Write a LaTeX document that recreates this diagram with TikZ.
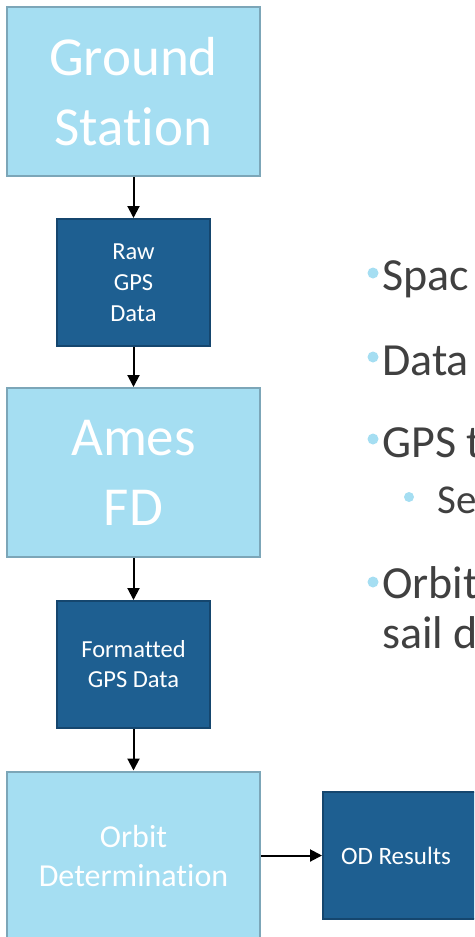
\documentclass[tikz,border=0pt]{standalone}
\usepackage{fontspec}
\setmainfont{Carlito}[Ligatures=NoCommon]
\usetikzlibrary{arrows.meta}
\definecolor{lightfill}{RGB}{165,222,242}
\definecolor{lightedge}{RGB}{124,166,184}
\definecolor{darkfill}{RGB}{30,95,145}
\definecolor{darkedge}{RGB}{21,70,110}
\definecolor{bodytext}{RGB}{64,64,64}
\definecolor{bulletblue}{RGB}{165,222,242}

\begin{document}
\begin{tikzpicture}[x=1pt,y=-1pt,
  lightbox/.style={draw=lightedge, fill=lightfill, line width=2pt,
    minimum width=253pt, minimum height=169pt, inner sep=0pt,
    text=white, align=center},
  darkbox/.style={draw=darkedge, fill=darkfill, line width=2pt,
    minimum width=153pt, minimum height=127pt, inner sep=0pt,
    text=white, align=center},
  flow/.style={line width=2pt, -{Triangle[length=12pt,width=12pt]}},
  bodyline/.style={anchor=base west, inner sep=0pt, text=bodytext,
    font=\fontsize{46}{54}\selectfont},
  subline/.style={anchor=base west, inner sep=0pt, text=bodytext,
    font=\fontsize{41}{48}\selectfont},
  dot/.style={fill=bulletblue, draw=none}
]
\useasboundingbox (0,0) rectangle (474,937);
\clip (0,0) rectangle (474,937);

% flow chain on the left
\node[lightbox, font=\fontsize{55}{70}\selectfont] (gs) at (133.5,91.5) {Ground\\Station};
\node[darkbox, font=\fontsize{24.5}{31}\selectfont] (raw) at (133.5,282.5) {Raw\\GPS\\Data};
\node[lightbox, font=\fontsize{55}{70}\selectfont] (ames) at (133.5,472.5) {Ames\\FD};
\node[darkbox, font=\fontsize{24.5}{30}\selectfont] (fmt) at (133.5,664.5) {Formatted\\GPS Data};
\node[lightbox, font=\fontsize{32}{39}\selectfont] (od) at (133.5,856) {Orbit\\Determination};
\node[darkbox, font=\fontsize{25}{30}\selectfont] (res) at (399.5,855.5) {\hspace*{-7pt}OD Results};

\draw[flow] (gs) -- (raw);
\draw[flow] (raw) -- (ames);
\draw[flow] (ames) -- (fmt);
\draw[flow] (fmt) -- (od);
\draw[flow] (od.east |- res.west) -- (res.west);

% bullet list on the right (runs on past the right edge)
\fill[dot] (373,273) circle (5.5pt);
\node[bodyline] (b1) at (382,290) {Spac};
\fill[dot] (373,357) circle (5.5pt);
\node[bodyline] (b2) at (382,375) {Data};
\fill[dot] (373,439) circle (5.5pt);
\node[bodyline] (b3) at (382,457) {GPS t};
\fill[dot] (409,497) circle (5pt);
\node[subline] (b3a) at (437,513) {Se};
\fill[dot] (373,582) circle (5.5pt);
\node[bodyline] (b4) at (382,598) {Orbit};
\node[bodyline] (b4b) at (382,648) {sail d};
\end{tikzpicture}
\end{document}
